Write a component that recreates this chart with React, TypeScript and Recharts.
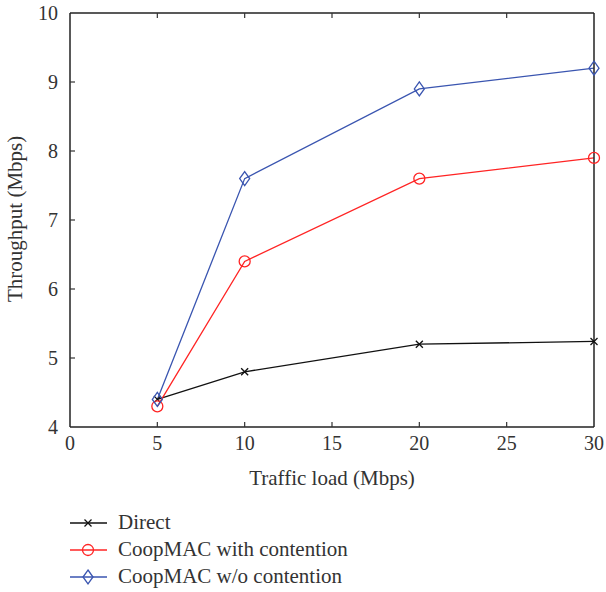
import React from 'react';
import { LineChart, Line, XAxis, YAxis } from 'recharts';

const trafficLoad = [5, 10, 20, 30];
const direct = [4.4, 4.8, 5.2, 5.24];
const coopWith = [4.3, 6.4, 7.6, 7.9];
const coopWithout = [4.4, 7.6, 8.9, 9.2];
const xTicks = [0, 5, 10, 15, 20, 25, 30];
const yTicks = [4, 5, 6, 7, 8, 9, 10];

const data = trafficLoad.map((x, i) => ({
  x,
  direct: direct[i],
  coopWith: coopWith[i],
  coopWithout: coopWithout[i],
}));

const W = 606;
const H = 592;
const LEFT = 70;
const RIGHT = 594;
const TOP = 13;
const BOTTOM = 427;
const FONT = '"Liberation Serif", "DejaVu Serif", serif';
const TXT = '#333';

const BLACK = '#111';
const RED = '#ff2424';
const BLUE = '#3a55b0';

const XMark = (p: any) => {
  const { cx, cy } = p;
  if (cx == null || cy == null) return null;
  const s = 3.5;
  return (
    <g stroke={BLACK} strokeWidth={1.3}>
      <line x1={cx - s} y1={cy - s} x2={cx + s} y2={cy + s} />
      <line x1={cx - s} y1={cy + s} x2={cx + s} y2={cy - s} />
    </g>
  );
};
const OMark = (p: any) => {
  const { cx, cy } = p;
  if (cx == null || cy == null) return null;
  return <circle cx={cx} cy={cy} r={5.5} fill="none" stroke={RED} strokeWidth={1.3} />;
};
const DMark = (p: any) => {
  const { cx, cy } = p;
  if (cx == null || cy == null) return null;
  const a = 5, b = 7;
  return (
    <path d={`M${cx},${cy - b} L${cx + a},${cy} L${cx},${cy + b} L${cx - a},${cy} Z`} fill="none" stroke={BLUE} strokeWidth={1.3} />
  );
};

const BottomTick = (p: any) => {
  const { x, payload } = p;
  return (
    <g>
      {payload.value !== 0 && payload.value !== 30 && (
        <line x1={x} y1={BOTTOM} x2={x} y2={BOTTOM - 5} stroke={TXT} strokeWidth={1.2} />
      )}
      <text x={x} y={BOTTOM + 23} textAnchor="middle" fontSize={20} fontFamily={FONT} fill={TXT}>
        {payload.value}
      </text>
    </g>
  );
};
const TopTick = (p: any) => {
  const { x, payload } = p;
  if (payload.value === 0 || payload.value === 30) return null;
  return <line x1={x} y1={TOP} x2={x} y2={TOP + 5} stroke={TXT} strokeWidth={1.2} />;
};
const LeftTick = (p: any) => {
  const { y, payload } = p;
  return (
    <g>
      {payload.value !== 4 && payload.value !== 10 && (
        <line x1={LEFT} y1={y} x2={LEFT + 5} y2={y} stroke={TXT} strokeWidth={1.2} />
      )}
      <text x={LEFT - 12} y={y + 7} textAnchor="end" fontSize={20} fontFamily={FONT} fill={TXT}>
        {payload.value}
      </text>
    </g>
  );
};
const RightTick = (p: any) => {
  const { y, payload } = p;
  if (payload.value === 4 || payload.value === 10) return null;
  return <line x1={RIGHT} y1={y} x2={RIGHT - 5} y2={y} stroke={TXT} strokeWidth={1.2} />;
};

const legendItems = [
  { label: 'Direct', color: BLACK, mark: 'x' },
  { label: 'CoopMAC with contention', color: RED, mark: 'o' },
  { label: 'CoopMAC w/o contention', color: BLUE, mark: 'd' },
];

const LegendBox = () => (
  <svg width={340} height={82} style={{ position: 'absolute', left: 70, top: 510 }}>
    {legendItems.map((it, i) => {
      const cy = 13 + i * 27;
      const cx = 18;
      return (
        <g key={it.label}>
          <line x1={0} y1={cy} x2={37} y2={cy} stroke={it.color} strokeWidth={1.3} />
          {it.mark === 'x' && <XMark cx={cx} cy={cy} />}
          {it.mark === 'o' && <OMark cx={cx} cy={cy} />}
          {it.mark === 'd' && <DMark cx={cx} cy={cy} />}
          <text x={48} y={cy + 6} fontSize={21} fontFamily={FONT} fill={TXT}>
            {it.label}
          </text>
        </g>
      );
    })}
  </svg>
);

export default function App() {
  return (
    <div style={{ position: 'absolute', left: 0, top: 0, width: W, height: H, background: '#fff' }}>
      <LineChart
        width={W}
        height={H}
        data={data}
        margin={{ top: 0, right: 0, bottom: 0, left: 0 }}
      >
        <XAxis
          xAxisId="b"
          dataKey="x"
          type="number"
          domain={[0, 30]}
          ticks={xTicks}
          orientation="bottom"
          height={H - BOTTOM}
          tick={<BottomTick />}
          tickLine={false}
          axisLine={{ stroke: '#222', strokeWidth: 1.5 }}
          interval={0}
          label={{ value: 'Traffic load (Mbps)', position: 'insideTop', dy: 38, fontSize: 21, fontFamily: FONT, fill: TXT }}
        />
        <XAxis
          xAxisId="t"
          dataKey="x"
          type="number"
          domain={[0, 30]}
          ticks={xTicks}
          orientation="top"
          height={TOP}
          tick={<TopTick />}
          tickLine={false}
          axisLine={{ stroke: '#222', strokeWidth: 1.5 }}
          interval={0}
        />
        <YAxis
          yAxisId="l"
          type="number"
          domain={[4, 10]}
          ticks={yTicks}
          orientation="left"
          width={LEFT}
          tick={<LeftTick />}
          tickLine={false}
          axisLine={{ stroke: '#222', strokeWidth: 1.5 }}
          interval={0}
          label={{ value: 'Throughput (Mbps)', angle: -90, position: 'insideLeft', dx: 10, dy: 82, fontSize: 21, fontFamily: FONT, fill: TXT }}
        />
        <YAxis
          yAxisId="r"
          type="number"
          domain={[4, 10]}
          ticks={yTicks}
          orientation="right"
          width={W - RIGHT}
          tick={<RightTick />}
          tickLine={false}
          axisLine={{ stroke: '#222', strokeWidth: 1.5 }}
          interval={0}
        />
        <Line xAxisId="b" yAxisId="l" dataKey="direct" stroke={BLACK} strokeWidth={1.3} dot={<XMark />} activeDot={false} isAnimationActive={false} />
        <Line xAxisId="b" yAxisId="l" dataKey="coopWith" stroke={RED} strokeWidth={1.3} dot={<OMark />} activeDot={false} isAnimationActive={false} />
        <Line xAxisId="b" yAxisId="l" dataKey="coopWithout" stroke={BLUE} strokeWidth={1.3} dot={<DMark />} activeDot={false} isAnimationActive={false} />
      </LineChart>
      <LegendBox />
    </div>
  );
}
